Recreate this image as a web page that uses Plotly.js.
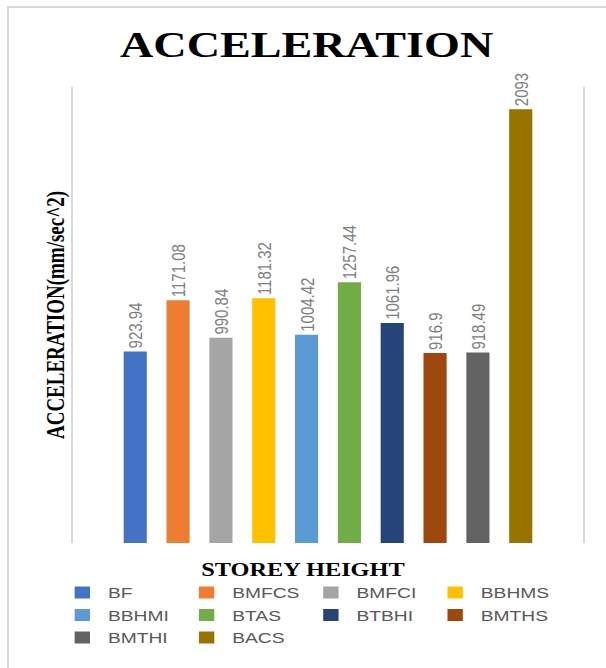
<!DOCTYPE html>
<html>
<head>
<meta charset="utf-8">
<script src="https://cdn.plot.ly/plotly-3.0.1.min.js"></script>
<style>
  html, body { margin: 0; padding: 0; background: #ffffff; }
  #wrap { position: absolute; left: 0; top: 0; width: 606px; height: 668px; overflow: hidden; background: #ffffff; }
  #frame { position: absolute; left: 7px; top: 6px; width: 700px; height: 700px;
           border-left: 2px solid #d9d9d9; border-top: 2px solid #d9d9d9; }
  #chart { position: absolute; left: 0; top: 0; width: 473px; height: 668px;
           transform: scaleX(1.2812); transform-origin: 0 0; }
</style>
</head>
<body>
<div id="wrap">
  <div id="frame"></div>
  <div id="chart"></div>
</div>
<script>
// ---- data ----
const category = ['STOREY HEIGHT'];
const seriesNames = ['BF', 'BMFCS', 'BMFCI', 'BBHMS', 'BBHMI', 'BTAS', 'BTBHI', 'BMTHS', 'BMTHI', 'BACS'];
const seriesValues = [923.94, 1171.08, 990.84, 1181.32, 1004.42, 1257.44, 1061.96, 916.9, 918.49, 2093];
const seriesColors = ['#4472C4', '#ED7D31', '#A5A5A5', '#FFC000', '#5B9BD5', '#70AD47', '#264478', '#9E480E', '#636363', '#997300'];
const chartTitle = 'ACCELERATION';
const yTitle = 'ACCELERATION(mm/sec^2)';
const xTitle = 'STOREY HEIGHT';

const sans = 'Liberation Sans, Arial, sans-serif';
const serif = 'Liberation Serif, Times New Roman, serif';

const traces = seriesNames.map((name, i) => ({
  type: 'bar',
  name: name,
  x: category,
  y: [seriesValues[i]],
  text: [String(seriesValues[i])],
  textposition: 'outside',
  textangle: -90,
  constraintext: 'none',
  cliponaxis: false,
  textfont: { family: sans, size: 15, color: '#808080' },
  marker: { color: seriesColors[i], line: { width: 0 } },
  hoverinfo: 'skip'
}));

const layout = {
  width: 473,
  height: 668,
  margin: { l: 57, r: 18, t: 87, b: 125, autoexpand: false },
  paper_bgcolor: 'rgba(0,0,0,0)',
  plot_bgcolor: 'rgba(0,0,0,0)',
  barmode: 'group',
  bargap: 0.16,
  bargroupgap: 0.46,
  showlegend: true,
  title: {
    text: chartTitle,
    font: { family: serif, size: 36, color: '#000000', weight: 'bold' },
    x: 0.506, xanchor: 'center',
    y: 0.933, yanchor: 'middle'
  },
  xaxis: {
    type: 'category',
    showticklabels: false,
    showgrid: false,
    zeroline: false,
    showline: false,
    ticks: ''
  },
  yaxis: {
    range: [0, 2200],
    showticklabels: false,
    showgrid: false,
    zeroline: false,
    ticks: '',
    showline: true,
    mirror: true,
    linecolor: '#d9d9d9',
    linewidth: 1.3,
    automargin: false,
    title: {
      text: yTitle,
      standoff: 0,
      font: { family: serif, size: 19, color: '#000000', weight: 'bold' }
    }
  },
  annotations: [{
    text: xTitle,
    xref: 'paper', yref: 'paper',
    x: 0.45, y: -0.059,
    xanchor: 'center', yanchor: 'middle',
    showarrow: false,
    font: { family: serif, size: 19, color: '#000000', weight: 'bold' }
  }],
  legend: {
    orientation: 'h',
    x: -0.032, xanchor: 'left',
    y: -0.073, yanchor: 'top',
    entrywidth: 52,
    entrywidthmode: 'pixels',
    traceorder: 'normal',
    font: { family: sans, size: 15, color: '#595959' },
    bgcolor: 'rgba(0,0,0,0)'
  }
};

Plotly.newPlot('chart', traces, layout, { displayModeBar: false, staticPlot: true });
</script>
</body>
</html>
